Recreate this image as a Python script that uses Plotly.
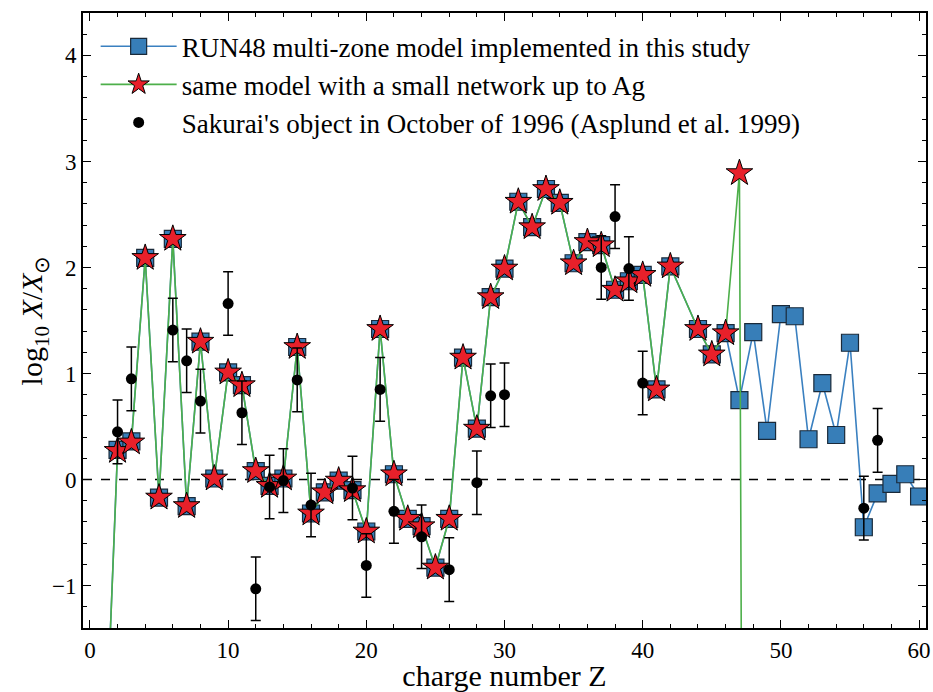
import plotly.graph_objects as go

# RUN48 multi-zone model (blue squares)
z_run48 = list(range(1, 43)) + list(range(44, 61))
y_run48 = [-3.0, 0.28, 0.36, 2.09, -0.17, 2.27, -0.25, 1.30, 0.01, 1.01,
           0.89, 0.08, -0.06, 0.01, 1.25, -0.32, -0.12, -0.01, -0.10, -0.49,
           1.42, 0.05, -0.37, -0.44, -0.83, -0.37, 1.15, 0.48, 1.72, 1.99,
           2.62, 2.38, 2.74, 2.61, 2.04, 2.24, 2.21, 1.79, 1.87, 1.93,
           0.85, 2.01,
           1.42, 1.18, 1.38, 0.75, 1.39, 0.46, 1.56, 1.54, 0.38, 0.91,
           0.42, 1.29, -0.45, -0.13, -0.04, 0.05, -0.16]

# same model with a small network up to Ag (green line, red stars)
z_small = list(range(1, 43)) + list(range(44, 49))
y_small = [-3.0, 0.27, 0.35, 2.09, -0.17, 2.27, -0.25, 1.30, 0.01, 1.01,
           0.89, 0.08, -0.06, 0.01, 1.25, -0.32, -0.12, -0.01, -0.10, -0.49,
           1.42, 0.05, -0.37, -0.44, -0.83, -0.37, 1.15, 0.48, 1.72, 1.99,
           2.62, 2.38, 2.74, 2.61, 2.04, 2.24, 2.21, 1.79, 1.87, 1.93,
           0.85, 2.01,
           1.42, 1.18, 1.38, 2.89, -30.0]

# Sakurai's object, October 1996 (Asplund et al. 1999)
z_obs = [2, 3, 6, 7, 8, 10, 11, 12, 13, 14, 15, 16, 19, 20, 21, 22, 24, 26,
         28, 29, 30, 37, 38, 39, 40, 56, 57]
y_obs = [0.45, 0.95, 1.41, 1.12, 0.74, 1.66, 0.63, -1.03, -0.07, -0.01, 0.94,
         -0.24, -0.08, -0.81, 0.85, -0.30, -0.54, -0.85, -0.03, 0.79, 0.80,
         2.00, 2.48, 1.99, 0.91, -0.27, 0.37]
err_obs = [0.3] * len(z_obs)

SERIF = "Liberation Serif, Times New Roman, serif"

fig = go.Figure()
fig.add_trace(go.Scatter(
    x=z_run48, y=y_run48, mode="lines+markers",
    name="RUN48 multi-zone model implemented in this study",
    line=dict(color="#3a80c0", width=1.6),
    marker=dict(symbol="square", size=17, color="#377eb8",
                line=dict(color="#1a2a3a", width=1.2)),
))
fig.add_trace(go.Scatter(
    x=z_small, y=y_small, mode="lines+markers",
    name="same model with a small network up to Ag",
    line=dict(color="#4daf4a", width=1.6),
    marker=dict(symbol="star", size=20, color="#e8202a",
                line=dict(color="#000000", width=1.0)),
))
fig.add_trace(go.Scatter(
    x=z_obs, y=y_obs, mode="markers",
    name="Sakurai's object in October of 1996 (Asplund et al. 1999)",
    marker=dict(symbol="circle", size=11, color="black"),
    error_y=dict(type="data", array=err_obs, visible=True, color="black",
                 thickness=1.5, width=5),
))

fig.add_shape(type="line", xref="paper", yref="y", x0=0, x1=1, y0=0, y1=0,
              line=dict(color="black", width=1.5, dash="dash"), layer="below")

axis_common = dict(
    showline=True, linecolor="black", linewidth=2, mirror="ticks",
    ticks="inside", ticklen=8, tickwidth=1.2, tickcolor="black",
    showgrid=False, zeroline=False,
    tickfont=dict(family=SERIF, size=23, color="black"),
)

fig.update_xaxes(
    range=[-0.5, 60.5], dtick=10, tick0=0,
    minor=dict(ticks="inside", dtick=2, ticklen=4, tickcolor="black", tickwidth=1),
    title=dict(text="charge number Z", font=dict(family=SERIF, size=30, color="black"),
               standoff=4),
    **axis_common,
)
fig.update_yaxes(
    range=[-1.4, 4.4], dtick=1, tick0=0,
    minor=dict(ticks="inside", dtick=0.2, ticklen=4, tickcolor="black", tickwidth=1),
    title=dict(text="log<sub>10</sub> <i>X</i>/<i>X</i><sub>⊙</sub>",
               font=dict(family=SERIF, size=30, color="black"), standoff=0),
    **axis_common,
)

fig.update_layout(
    width=933, height=692,
    margin=dict(l=83, r=7, t=13, b=64, autoexpand=False),
    plot_bgcolor="white", paper_bgcolor="white",
    font=dict(family=SERIF, color="black"),
    showlegend=True,
    legend=dict(x=0.015, y=0.985, xanchor="left", yanchor="top",
                bgcolor="rgba(0,0,0,0)", borderwidth=0, itemwidth=76,
                font=dict(family=SERIF, size=27, color="black")),
)

fig.write_html("out.html", config={"displayModeBar": False},
               post_script="document.body.style.margin='0px';")
